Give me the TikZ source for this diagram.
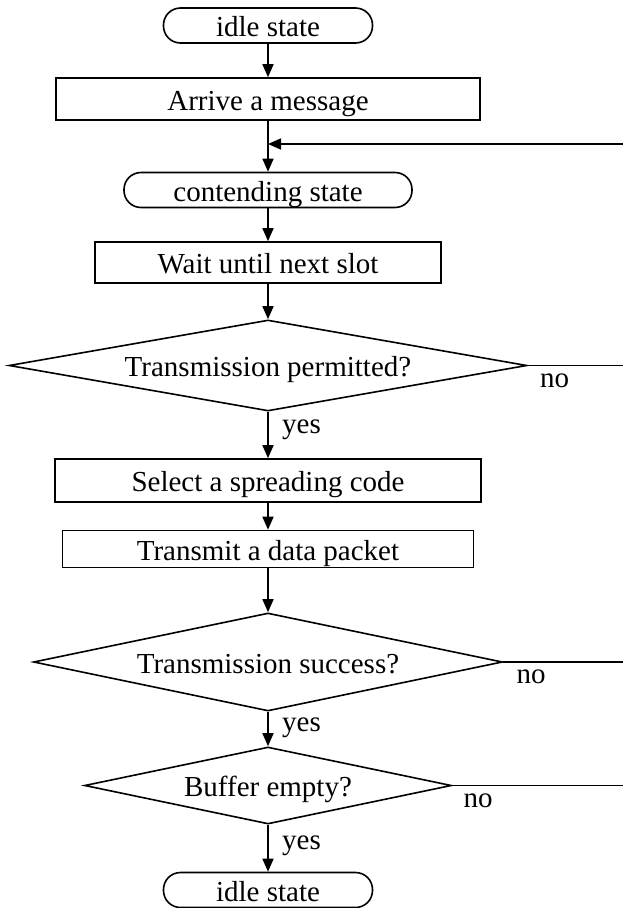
\documentclass[tikz,border=0pt]{standalone}
\usepackage{fontspec}
\setmainfont{Liberation Serif}
\usetikzlibrary{shapes.geometric,arrows.meta}
\begin{document}
\begin{tikzpicture}[x=1pt,y=-1pt,
  every node/.style={font=\fontsize{29}{34}\selectfont},
  main/.style={draw, line width=1.6pt, inner sep=0pt, text height=24pt, text depth=2pt},
  term/.style={main, rounded corners=17pt, minimum height=35pt},
  proc/.style={main},
  dec/.style={main, diamond, aspect=6},
  lab/.style={inner sep=0pt, anchor=north west},
  arr/.style={line width=1.6pt, -{Triangle[length=13pt,width=11pt]}},
  ln/.style={line width=1.6pt}]
\useasboundingbox (0,0) rectangle (623,908);

\node[term, minimum width=209pt] (idle1) at (268,25.5) {idle state};
\node[proc, minimum width=424pt, minimum height=42pt] (arrive) at (268,99) {Arrive a message};
\node[term, minimum width=288pt] (contend) at (268,190) {contending state};
\node[proc, minimum width=346pt, minimum height=41pt] (wait) at (268,262.5) {Wait until next slot};
\node[dec, minimum width=518pt, minimum height=91pt] (d1) at (268,365.5) {Transmission permitted?};
\node[proc, minimum width=426pt, minimum height=43pt] (select) at (268,480.5) {Select a spreading code};
\node[proc, minimum width=411pt, minimum height=37pt] (transmit) at (268,549) {Transmit a data packet};
\node[dec, minimum width=469pt, minimum height=98pt] (d2) at (268,662) {Transmission success?};
\node[dec, minimum width=367pt, minimum height=77pt] (d3) at (268,785.5) {Buffer empty?};
\node[term, minimum width=209pt] (idle2) at (268,890) {idle state};

\coordinate (fbR) at (623,144);

\draw[arr] (idle1) -- (arrive);
\draw[arr] (arrive) -- (contend);
\draw[arr] (fbR) -- (fbR -| arrive.south);
\draw[arr] (contend) -- (wait);
\draw[arr] (wait) -- (d1);
\draw[arr] (d1) -- (select);
\draw[arr] (select) -- (transmit);
\draw[arr] (transmit) -- (d2);
\draw[arr] (d2) -- (d3);
\draw[arr] (d3) -- (idle2);

\draw[ln] (d1.east) -- (d1.east -| fbR);
\draw[ln] (d2.east) -- (d2.east -| fbR);
\draw[ln] (d3.east) -- (d3.east -| fbR);

\node[lab] (no1) at ([xshift=12pt,yshift=-8pt]d1.east) {no};
\node[lab] (no2) at ([xshift=13pt,yshift=-8pt]d2.east) {no};
\node[lab] (no3) at ([xshift=11pt,yshift=-8pt]d3.east) {no};
\node[lab] (yes1) at ([xshift=14pt,yshift=-8pt]d1.south) {yes};
\node[lab] (yes2) at ([xshift=14pt,yshift=-6pt]d2.south) {yes};
\node[lab] (yes3) at ([xshift=14pt,yshift=-11pt]d3.south) {yes};
\end{tikzpicture}
\end{document}
